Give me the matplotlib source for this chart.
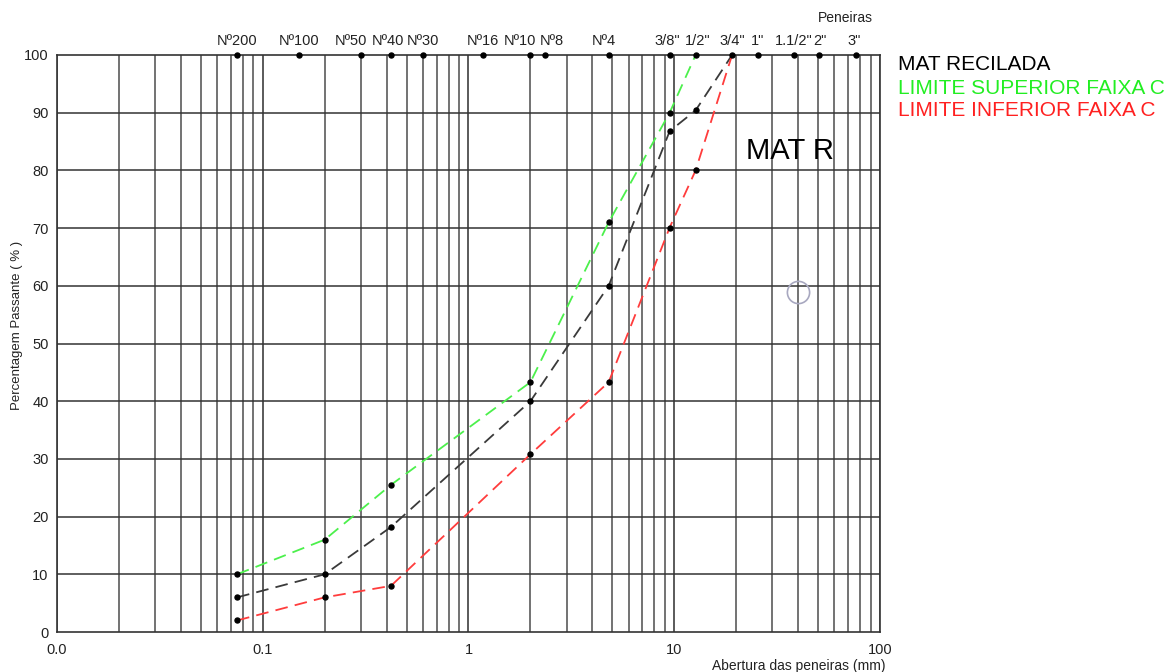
import matplotlib
matplotlib.use("Agg")
import matplotlib.pyplot as plt
from matplotlib.ticker import FixedLocator, FixedFormatter, NullLocator
import numpy as np

plt.rcParams['font.family'] = ['Liberation Sans', 'DejaVu Sans']

# Peneiras (abertura em mm) e nomes
peneiras_nome = ['Nº200', 'Nº100', 'Nº50', 'Nº40', 'Nº30', 'Nº16', 'Nº10', 'Nº8', 'Nº4',
                 '3/8"', '1/2"', '3/4"', '1"', '1.1/2"', '2"', '3"']
peneiras_mm = [0.075, 0.15, 0.3, 0.42, 0.6, 1.18, 2.0, 2.36, 4.8,
               9.5, 12.7, 19.1, 25.4, 38.1, 50.8, 76.2]
# deslocamento horizontal dos rotulos (px) para nao encostarem
rotulo_desloc = [0, 0, -10, -3, 0, 0, -10, 7, -5, -2, 2, 0, 0, 0, 0, -2]

# Curvas granulometricas
abert_sup = [0.075, 0.2, 0.42, 2.0, 4.8, 9.5, 12.7]
passa_sup = [10, 16, 25.5, 43.3, 71, 90, 100]

abert_mat = [0.075, 0.2, 0.42, 2.0, 4.8, 9.5, 12.7, 19.1]
passa_mat = [6, 10, 18.2, 40, 60, 86.8, 90.4, 100]

abert_inf = [0.075, 0.2, 0.42, 2.0, 4.8, 9.5, 12.7, 19.1]
passa_inf = [2, 6, 8, 30.8, 43.3, 70.1, 80, 100]

fig = plt.figure(figsize=(11.68, 6.72), dpi=100)
ax = fig.add_axes([57 / 1168, 1 - 632 / 672, (880 - 57) / 1168, (632 - 55) / 672])

ax.set_xscale('log')
ax.set_xlim(0.01, 100)
ax.set_ylim(0, 100)

# grade: linhas verticais em todas as subdivisoes log, horizontais a cada 10
verticais = []
for dec in [0.01, 0.1, 1, 10]:
    for k in range(1, 11):
        verticais.append(dec * k)
for xv in verticais:
    ax.axvline(xv, color='#5a5a5a', lw=1.2, zorder=1)
for yv in range(10, 100, 10):
    ax.axhline(yv, color='#333333', lw=1.1, zorder=1)

ax.xaxis.set_major_locator(FixedLocator([0.01, 0.1, 1, 10, 100]))
ax.xaxis.set_major_formatter(FixedFormatter(['0.0', '0.1', '1', '10', '100']))
ax.xaxis.set_minor_locator(NullLocator())
ax.set_yticks(range(0, 101, 10))
ax.tick_params(axis='both', length=0, labelsize=10.5, colors='#222222')
ax.tick_params(axis='x', pad=8)
ax.tick_params(axis='y', pad=6)

for s in ax.spines.values():
    s.set_color('#333333')
    s.set_linewidth(1.2)

# curvas
ax.plot(abert_sup, passa_sup, color='#4cf04c', lw=1.3, dashes=(7, 4), zorder=3)
ax.plot(abert_mat, passa_mat, color='#3a3a3a', lw=1.3, dashes=(7, 4), zorder=3)
ax.plot(abert_inf, passa_inf, color='#ff3c3c', lw=1.3, dashes=(7, 4), zorder=3)
ax.plot(abert_sup[:-1], passa_sup[:-1], 'o', color='black', ms=3.6, zorder=4)
ax.plot(abert_mat[:-1], passa_mat[:-1], 'o', color='black', ms=3.6, zorder=4)
ax.plot(abert_inf[:-1], passa_inf[:-1], 'o', color='black', ms=3.6, zorder=4)

# marcas das peneiras no topo
ax.plot(peneiras_mm, [100] * len(peneiras_mm), 'o', color='black', ms=3.6,
        clip_on=False, zorder=5)
for nome, xm, dx in zip(peneiras_nome, peneiras_mm, rotulo_desloc):
    ax.annotate(nome, (xm, 100), xytext=(dx * 0.72, 5), textcoords='offset points',
                ha='center', va='bottom', fontsize=10.5, color='#222222',
                annotation_clip=False)

ax.plot([40], [59], 'o', mfc='none', mec='#a8a8c0', ms=16, mew=1.2, zorder=4)

fig.text(845 / 1168, 1 - 18 / 672, 'Peneiras', ha='center', va='center',
         fontsize=10, color='#222222')
fig.text(885 / 1168, 1 - 666 / 672, 'Abertura das peneiras (mm)', ha='right',
         va='center', fontsize=10, color='#222222')
fig.text(17 / 1168, 1 - 325 / 672, 'Percentagem Passante ( % )', rotation=90,
         ha='center', va='center', fontsize=9.5, color='#222222')

fig.text(746 / 1168, 1 - 151 / 672, 'MAT R', ha='left', va='center',
         fontsize=21, color='black')

fig.text(898 / 1168, 1 - 64 / 672, 'MAT RECILADA', ha='left', va='center',
         fontsize=15, color='black')
fig.text(898 / 1168, 1 - 89 / 672, 'LIMITE SUPERIOR FAIXA C', ha='left',
         va='center', fontsize=15, color='#22ee22')
fig.text(898 / 1168, 1 - 111 / 672, 'LIMITE INFERIOR FAIXA C', ha='left',
         va='center', fontsize=15, color='#ff2020')

fig.savefig('out.png', dpi=100)
